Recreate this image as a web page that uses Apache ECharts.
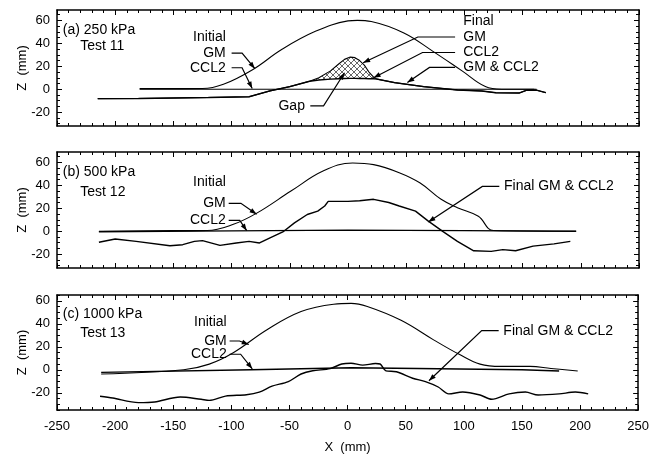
<!DOCTYPE html>
<html>
<head>
<meta charset="utf-8">
<script src="https://cdn.jsdelivr.net/npm/echarts@6/dist/echarts.min.js"></script>
<style>
	html, body { margin: 0; padding: 0; background: #fff; }
	#chart { width: 652px; height: 457px; }
</style>
</head>
<body>
<div id="chart"></div>
<script>
	// tick values
	const yMajorTicks = [-20, 0, 20, 40, 60];
	const yMinorTicksAB = [-30, -25, -20, -15, -10, -5, 0, 5, 10, 15, 20, 25, 30, 35, 40, 45, 50, 55, 60, 65];
	const yMinorTicksC = [-35, -30, -25, -20, -15, -10, -5, 0, 5, 10, 15, 20, 25, 30, 35, 40, 45, 50, 55, 60, 65];

	// (a) 250 kPa, Test 11
	const initGmAX = [-179, -125, -107, -82, -57, -28, 0, 8, 20, 48, 73, 98, 118, 132, 160];
	const initGmAZ = [0.5, 0.6, 4.3, 17, 34.6, 50.4, 59.5, 60, 59, 49, 33, 16, 2.3, 0, 0];
	const initCclAX = [-179, 162];
	const initCclAZ = [0, 0];
	const finalAX = [-215, -180, -150, -120, -85, -67, -50, -33, -25, -15, -8, -3, 2, 6, 10, 14, 18, 22, 25, 40, 65, 94, 115, 127, 147, 153, 162, 170];
	const finalCclAZ = [-8.2, -8, -7.6, -7.2, -6.5, -1.4, 2.3, 7, 8, 8.8, 9.2, 9.4, 9.5, 9.5, 9.4, 9.3, 9.2, 9.1, 8.8, 5.8, 2.3, -0.6, -1.5, -3, -3.3, -1, -0.8, -3];
	const finalGmAZ = [-8.2, -8, -7.6, -7.2, -6.5, -1.4, 2.3, 7, 10, 16, 22, 26, 28, 27.5, 25, 21, 15, 10.5, 8.8, 5.8, 2.3, -0.6, -1.5, -3, -3.3, -1, -0.8, -3];
	const gapFrom = 7, gapTo = 19;

	// (b) 500 kPa, Test 12
	const initGmBX = [-214, -150, -121, -99, -78, -49, -21, 4, 22, 44, 62, 80, 94, 112, 125, 196];
	const initGmBZ = [0, 0.5, 0.6, 5.8, 16, 35, 52.6, 59.4, 58, 51, 42, 27.8, 20.5, 13, 0.6, 0];
	const initCclBX = [-214, -100, 0, 100, 196];
	const initCclBZ = [-0.5, 0.3, 1, 0.5, 0];
	const finalBX = [-214, -200, -182, -153, -142, -132, -125, -110, -96, -85, -76, -67, -56, -46, -35, -26, -20, -17, -10, 0, 10, 22, 35, 44, 58, 69, 82, 94, 108, 123, 133, 144, 159, 177, 191];
	const finalBZ = [-9.6, -6.7, -8.8, -12.6, -11.7, -8.8, -8.2, -12.3, -10.2, -8.8, -10.2, -5.8, -0.6, 7.3, 14.6, 17.5, 22, 26, 26, 26, 26.5, 27.8, 25, 22, 17.5, 8.8, -0.6, -8.8, -17, -17.5, -16, -17, -13, -11, -8.8];

	// (c) 1000 kPa, Test 13
	const initGmCX = [-212, -141, -119, -98, -69, -40, -12, 3, 17, 46, 74, 96, 114, 132, 157, 175, 198];
	const initGmCZ = [-3.7, 0, 4.9, 15, 35, 50.6, 57, 57.7, 55, 43, 26, 13.4, 4.9, 2.9, 2.9, 1.1, -1.1];
	const initCclCX = [-212, -83, 3, 60, 150, 182];
	const initCclCZ = [-2.3, 0, 1.7, 1.1, 0, -1.1];
	const finalCX = [-213, -202, -180, -166, -144, -126, -119, -105, -87, -76, -65, -51, -40, -30, -15, -5, 3, 13, 24, 28, 33, 42, 56, 67, 78, 87, 99, 114, 124, 139, 153, 164, 182, 196, 207];
	const finalCZ = [-23, -24.6, -28.6, -28, -23.7, -25.7, -26.6, -22.9, -21.7, -19.4, -14.3, -10.3, -3.7, -0.9, 1, 5, 5.7, 4, 5.4, 5, -1, -1.7, -7.4, -10.3, -15, -21, -19.4, -22, -25.7, -21, -19.4, -22, -21, -19.4, -21];

	// annotations: [text, x, z, align] and leader polylines (arrow at the last point)
	const notesA = [['(a) 250 kPa', -245, 51.7, 'left'], ['Test 11', -230, 37.8, 'left'], ['Initial', -105, 45.6, 'right'], ['GM', -105, 31.5, 'right'], ['CCL2', -105, 18.7, 'right'], ['Gap', -37, -14.4, 'right'], ['Final', 99, 59, 'left'], ['GM', 99, 45.5, 'left'], ['CCL2', 99, 32, 'left'], ['GM & CCL2', 99, 19, 'left']];
	const leadersA = [[[-100, 31.5], [-91, 31.5], [-80, 17.9]], [[-100, 18.7], [-91, 18.7], [-82.3, 0.6]], [[-32.4, -14.4], [-21, -14.4], [-3, 14.4]], [[92, 45.5], [60, 45.5], [13, 23]], [[92, 32], [64, 32], [22, 10]], [[92, 19], [70, 19], [51, 5.8]]];
	const notesB = [['(b) 500 kPa', -245, 51.3, 'left'], ['Test 12', -230, 34, 'left'], ['Initial', -105, 42.6, 'right'], ['GM', -105, 24.3, 'right'], ['CCL2', -105, 9.5, 'right'], ['Final GM & CCL2', 134, 39, 'left']];
	const leadersB = [[[-102.5, 24.3], [-92, 24.3], [-78.5, 14.8]], [[-102.5, 9.5], [-93, 9.5], [-87, 0.5]], [[130, 39], [115.4, 39], [69, 8]]];
	const notesC = [['(c) 1000 kPa', -245, 48.7, 'left'], ['Test 13', -230, 32, 'left'], ['Initial', -104, 41, 'right'], ['GM', -104, 25, 'right'], ['CCL2', -104, 13.5, 'right'], ['Final GM & CCL2', 134, 34, 'left']];
	const leadersC = [[[-101.5, 25], [-93, 25], [-85, 22]], [[-101.5, 13.5], [-92, 13.5], [-82, 0.8]], [[130, 34], [115.4, 34], [70, -9.6]]];

	const FONT = '"Liberation Sans", Arial, sans-serif';
	const panelTop = [10, 152, 295];
	const panelHeight = [116, 116, 115];
	const panelMin = [-32, -32, -35];
	const panelMax = [69, 69, 65];
	const panelMinor = [yMinorTicksAB, yMinorTicksAB, yMinorTicksC];

	const pts = function (xs, zs) {
		return xs.map(function (x, i) { return [x, zs[i]]; });
	};

	// cross hatch used for the gap between final GM and CCL2
	const hatch = document.createElement('canvas');
	hatch.width = 6;
	hatch.height = 6;
	(function () {
		const c = hatch.getContext('2d');
		c.strokeStyle = '#000';
		c.lineWidth = 0.6;
		c.beginPath();
		c.moveTo(0, 0); c.lineTo(6, 6);
		c.moveTo(6, 0); c.lineTo(0, 6);
		c.stroke();
	})();

	const grid = [], xAxis = [], yAxis = [];
	for (let g = 0; g < 3; g++) {
		grid.push({ left: 57, right: 13, top: panelTop[g], height: panelHeight[g] });
		['bottom', 'top'].forEach(function (pos) {
			xAxis.push({
				gridIndex: g, type: 'value', position: pos, min: -250, max: 250, interval: 50,
				axisLine: { show: true, onZero: false, lineStyle: { color: '#000', width: 1.5 } },
				axisTick: { inside: true, length: 5, lineStyle: { color: '#000' } },
				minorTick: { show: true, splitNumber: 5, length: 3, lineStyle: { color: '#000' } },
				axisLabel: { show: g === 2 && pos === 'bottom', color: '#000', fontSize: 13, fontFamily: FONT, margin: 10 },
				splitLine: { show: false },
				name: (g === 2 && pos === 'bottom') ? 'X  (mm)' : '',
				nameLocation: 'middle', nameGap: 31,
				nameTextStyle: { color: '#000', fontSize: 13, fontFamily: FONT }
			});
		});
		['left', 'right'].forEach(function (pos) {
			yAxis.push({
				gridIndex: g, type: 'value', position: pos, min: panelMin[g], max: panelMax[g],
				axisLine: { show: true, onZero: false, lineStyle: { color: '#000', width: 1.5 } },
				axisTick: { inside: true, length: 5, customValues: yMajorTicks, lineStyle: { color: '#000' } },
				axisLabel: { show: pos === 'left', customValues: yMajorTicks, color: '#000', fontSize: 13, fontFamily: FONT, margin: 7 },
				splitLine: { show: false },
				name: pos === 'left' ? 'Z  (mm)' : '',
				nameLocation: 'middle', nameGap: 28, nameRotate: 90, nameMoveOverlap: false,
				nameTextStyle: { color: '#000', fontSize: 13, fontFamily: FONT }
			});
			yAxis.push({
				gridIndex: g, type: 'value', position: pos, min: panelMin[g], max: panelMax[g],
				axisLine: { show: false, onZero: false },
				axisTick: { inside: true, length: 3, customValues: panelMinor[g], lineStyle: { color: '#000' } },
				axisLabel: { show: false },
				splitLine: { show: false }
			});
		});
	}

	const line = function (g, data, width, smooth) {
		return {
			type: 'line', xAxisIndex: 2 * g, yAxisIndex: 4 * g, data: data,
			showSymbol: false, symbol: 'none', smooth: smooth || false, silent: true,
			lineStyle: { color: '#000', width: width }
		};
	};

	const gapX = finalAX.slice(gapFrom, gapTo);
	const gapBase = finalCclAZ.slice(gapFrom, gapTo);
	const gapTop = finalGmAZ.slice(gapFrom, gapTo);

	const series = [
		{
			type: 'custom', xAxisIndex: 0, yAxisIndex: 0, silent: true, z: 1,
			data: gapX.map(function (x, i) { return [x, gapTop[i], gapBase[i]]; }),
			encode: { x: 0, y: [1, 2] },
			renderItem: function (params, api) {
				if (params.dataIndex !== 0) {
					return;
				}
				const top = gapX.map(function (x, i) { return api.coord([x, gapTop[i]]); });
				const bot = gapX.map(function (x, i) { return api.coord([x, gapBase[i]]); }).reverse();
				return {
					type: 'polygon',
					shape: { points: top.concat(bot) },
					style: { fill: { image: hatch, repeat: 'repeat' }, stroke: null }
				};
			}
		},
		line(0, pts(initCclAX, initCclAZ), 1),
		line(0, pts(initGmAX, initGmAZ), 1.1, 0.4),
		line(0, pts(finalAX, finalCclAZ), 1.4),
		line(0, pts(finalAX, finalGmAZ), 1.1),
		line(1, pts(initCclBX, initCclBZ), 1.4),
		line(1, pts(initGmBX, initGmBZ), 1.1, 0.4),
		line(1, pts(finalBX, finalBZ), 1.4),
		line(2, pts(initCclCX, initCclCZ), 1.4),
		line(2, pts(initGmCX, initGmCZ), 1.1, 0.4),
		line(2, pts(finalCX, finalCZ), 1.4, 0.3)
	];

	const chart = echarts.init(document.getElementById('chart'), null, { renderer: 'canvas' });
	chart.setOption({ animation: false, backgroundColor: '#fff', grid: grid, xAxis: xAxis, yAxis: yAxis, series: series });

	// annotations placed in data coordinates
	const graphic = [];
	const toPx = function (g, p) {
		return chart.convertToPixel({ xAxisIndex: 2 * g, yAxisIndex: 4 * g }, p);
	};
	[[notesA, leadersA], [notesB, leadersB], [notesC, leadersC]].forEach(function (panel, g) {
		panel[0].forEach(function (n) {
			const p = toPx(g, [n[1], n[2]]);
			graphic.push({
				type: 'text', silent: true,
				style: { text: n[0], x: p[0], y: p[1], align: n[3], verticalAlign: 'middle', fill: '#000', font: '14px ' + FONT }
			});
		});
		panel[1].forEach(function (l) {
			const ps = l.map(function (q) { return toPx(g, q); });
			graphic.push({ type: 'polyline', silent: true, shape: { points: ps }, style: { stroke: '#000', lineWidth: 1.2, fill: null } });
			const a = ps[ps.length - 2], b = ps[ps.length - 1];
			const len = Math.hypot(b[0] - a[0], b[1] - a[1]);
			const ux = (b[0] - a[0]) / len, uy = (b[1] - a[1]) / len;
			graphic.push({
				type: 'polygon', silent: true,
				shape: { points: [b, [b[0] - ux * 7 - uy * 2.5, b[1] - uy * 7 + ux * 2.5], [b[0] - ux * 7 + uy * 2.5, b[1] - uy * 7 - ux * 2.5]] },
				style: { fill: '#000' }
			});
		});
	});
	chart.setOption({ graphic: graphic });
</script>
</body>
</html>
